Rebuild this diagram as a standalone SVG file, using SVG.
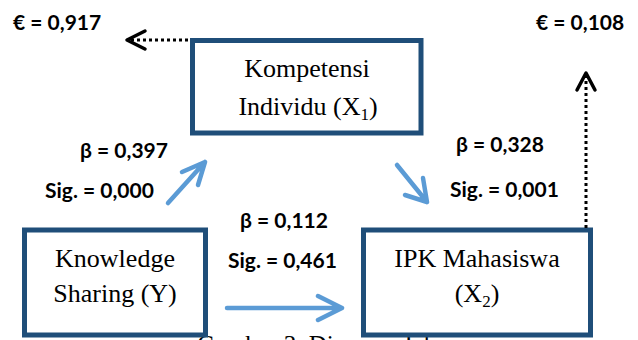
<svg xmlns="http://www.w3.org/2000/svg" width="638" height="340" viewBox="0 0 638 340">
<style>
.box{fill:#fff;stroke:#1F4E79;stroke-width:5}
.nt{font-family:"Liberation Serif","Times New Roman",serif;font-size:26px;fill:#000;text-anchor:middle}
.lb{font-family:Lato,"Open Sans",sans-serif;font-weight:bold;font-size:21px;fill:#000}
.blue{fill:none;stroke:#5B9BD5;stroke-width:4.5;stroke-linecap:round;stroke-linejoin:round}
.dot{fill:none;stroke:#000;stroke-width:3;stroke-dasharray:3 3}
.head{fill:none;stroke:#000;stroke-width:3.5;stroke-linecap:round;stroke-linejoin:round}
.cap{font-family:"Liberation Serif","Times New Roman",serif;font-size:25px;fill:#000}
</style>
<rect width="638" height="340" fill="#fff"/>
<text class="cap" x="197" y="353">Gambar 3. Diagram Jalur</text>
<g id="kompetensi">
<rect class="box" x="192.5" y="40.5" width="228.5" height="92.5"/>
<text class="nt" x="307" y="77">Kompetensi</text>
<text class="nt" x="308" y="115">Individu (X<tspan font-size="17" dy="5">1</tspan><tspan dy="-5">)</tspan></text>
</g>
<g id="knowledge">
<rect class="box" x="24.5" y="230" width="181" height="105"/>
<text class="nt" x="115" y="267">Knowledge</text>
<text class="nt" x="115" y="302">Sharing (Y)</text>
</g>
<g id="ipk">
<rect class="box" x="363.5" y="230" width="227" height="105"/>
<text class="nt" x="477" y="267">IPK Mahasiswa</text>
<text class="nt" x="477" y="302">(X<tspan font-size="17" dy="5">2</tspan><tspan dy="-5">)</tspan></text>
</g>
<g id="connectors">
<path class="blue" d="M168,203 L205,162 M182,172 L205,162 L198,185"/>
<path class="blue" d="M397,165 L427,202 M423,178 L427,202 L405,195"/>
<path class="blue" d="M227,308 L342,308 M318,296 L342,308 L318,320"/>
<path class="dot" d="M188,40 L130,40"/>
<path class="head" d="M145,31 L127,40 L145,49"/>
<path class="dot" d="M586,228 L586,76"/>
<path class="head" d="M577,90 L586,73 L595,90"/>
</g>
<g id="labels">
<text class="lb" x="13" y="30">€ = 0,917</text>
<text class="lb" x="536" y="30">€ = 0,108</text>
<text class="lb" x="80" y="158">β = 0,397</text>
<text class="lb" x="45" y="198">Sig. = 0,000</text>
<text class="lb" x="240" y="228">β = 0,112</text>
<text class="lb" x="228" y="268">Sig. = 0,461</text>
<text class="lb" x="456" y="152">β = 0,328</text>
<text class="lb" x="450" y="197">Sig. = 0,001</text>
</g>
</svg>
